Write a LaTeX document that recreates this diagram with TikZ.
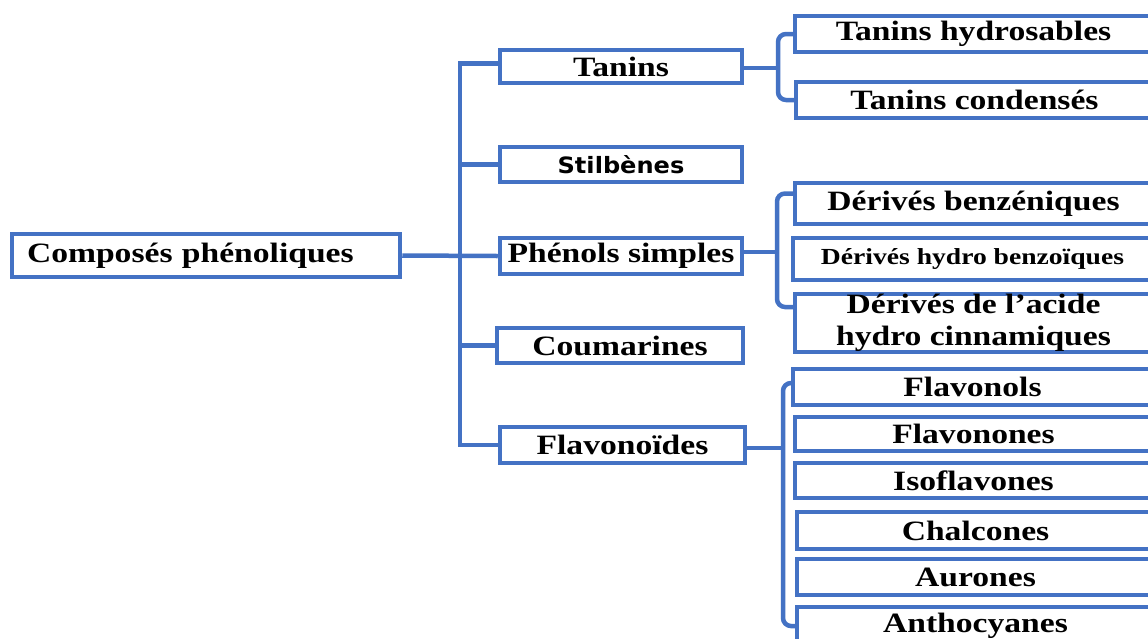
\documentclass[tikz,border=0pt]{standalone}
\usepackage{fontspec}
\newfontfamily\tnr{Liberation Serif}[FakeStretch=1.2]
\newfontfamily\sss{DejaVu Sans}[FakeStretch=1.07]
\definecolor{lineblue}{HTML}{4472C4}
\begin{document}
\begin{tikzpicture}[x=1pt,y=-1pt,
  con/.style={draw=lineblue,line width=4.5pt},
  brk/.style={con,rounded corners=8pt},
  box/.style={draw=lineblue,line width=4.5pt,inner sep=0pt,align=center,
    font=\tnr\bfseries\fontsize{28}{32}\selectfont,text=black},
  mid/.style={box,minimum width=242pt},
  leaf/.style={box,minimum width=357pt}]
\useasboundingbox (0,0) rectangle (1148,638);
\clip (0,0) rectangle (1148,638);
\fill[white] (0,0) rectangle (1148,638);
% root
\node[box,minimum width=388pt,minimum height=43pt,text width=370pt,align=left] (root) at (206,255.5) {\hspace*{6pt}Composés phénoliques};
% middle level
\node[mid,minimum height=33pt] (tan) at (621,66.5) {Tanins};
\node[mid,minimum height=35pt,font=\sss\bfseries\fontsize{22.5}{26}\selectfont] (sti) at (621,164.5) {Stilbènes};
\node[mid,minimum height=36pt] (phe) at (621,256) {Phénols simples};
\node[mid,minimum height=35pt,minimum width=246pt] (cou) at (620,345.5) {Coumarines};
\node[mid,minimum height=36pt,minimum width=245pt] (fla) at (622.5,445) {Flavonoïdes};
% leaves
\node[leaf,minimum height=36pt] (th) at (973.5,34) {Tanins hydrosables};
\node[leaf,minimum height=36pt] (tc) at (974.5,100) {Tanins condensés};
\node[leaf,minimum height=41pt] (db) at (973.5,203.5) {Dérivés benzéniques};
\node[leaf,minimum height=42pt,minimum width=359pt,font=\tnr\bfseries\fontsize{23}{26}\selectfont] (dhb) at (972.5,259) {Dérivés hydro benzoïques};
\node[leaf,minimum height=58pt] (dac) at (973.5,323) {Dérivés de l’acide\\hydro cinnamiques};
\node[leaf,minimum height=36pt,minimum width=359pt] (f1) at (972.5,387) {Flavonols};
\node[leaf,minimum height=34pt] (f2) at (973.5,434) {Flavonones};
\node[leaf,minimum height=35pt] (f3) at (973.5,480.5) {Isoflavones};
\node[leaf,minimum height=37pt] (f4) at (975.5,530.5) {Chalcones};
\node[leaf,minimum height=36pt] (f5) at (975.5,577) {Aurones};
\node[leaf,minimum height=38pt] (f6) at (975.5,626) {Anthocyanes};
% trunk
\coordinate (tr) at (460,0);
\draw[con] (root.east) -- (phe.west);
\draw[con] ([yshift=3pt]tan.west) -| (tr |- fla.west) -- (fla.west);
\draw[con] (sti.west) -- (sti.west -| tr);
\draw[con] (cou.west) -- (cou.west -| tr);
% tanins bracket
\coordinate (b1) at (778,0);
\draw[brk] (th.west) -| (b1 |- tc.west) -- (tc.west);
\draw[con] ([yshift=-1.5pt]tan.east) -- ([yshift=-1.5pt]tan.east -| b1);
% phenols bracket
\coordinate (b2) at (777,0);
\draw[brk] ([yshift=10pt]db.west) -| (b2 |- 0,307) -- ([yshift=16pt]dac.west);
\draw[con] ([yshift=4pt]phe.east) -- ([yshift=4pt]phe.east -| b2);
% flavonoides bracket
\coordinate (b3) at (783,0);
\draw[brk] ([yshift=4pt]f1.west) -| (b3 |- f6.west) -- (f6.west);
\draw[con] ([yshift=-3pt]fla.east) -- ([yshift=-3pt]fla.east -| b3);
\end{tikzpicture}
\end{document}
